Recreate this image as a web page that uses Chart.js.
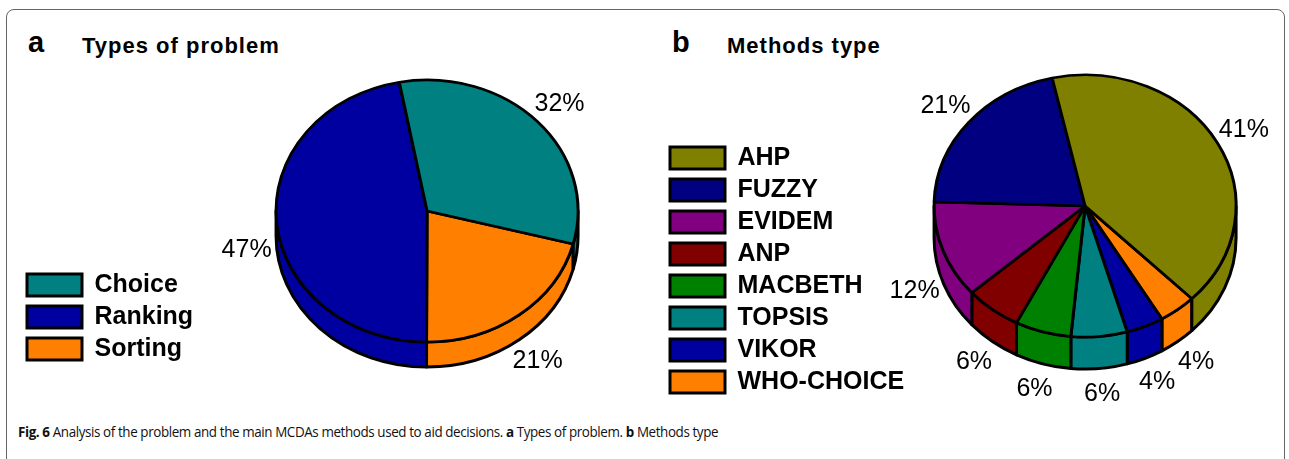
<!DOCTYPE html>
<html>
<head>
<meta charset="utf-8">
<script src="https://cdn.jsdelivr.net/npm/chart.js@4/dist/chart.umd.min.js"></script>
<style>
  html, body { margin: 0; padding: 0; background: #fff; }
  body { width: 1289px; height: 459px; position: relative; overflow: hidden; font-family: "Liberation Sans", Arial, sans-serif; }
  .frame { position: absolute; left: 6px; top: 9px; width: 1279px; height: 520px; border: 1.5px solid #666; border-radius: 8px; box-sizing: border-box; }
  canvas { position: absolute; top: 0; }
  #pieA { left: 0; }
  #pieB { left: 640px; }
  .tag { position: absolute; font-weight: bold; font-size: 29px; line-height: 29px; color: #000; }
  .ttl { position: absolute; font-weight: bold; font-size: 22px; line-height: 22px; letter-spacing: 1px; color: #000; }
  .cap { position: absolute; left: 18px; top: 424px; font-family: "Open Sans", sans-serif; font-size: 15px; line-height: 15px; letter-spacing: -0.45px; color: #111; white-space: nowrap; transform: scaleX(0.895); transform-origin: 0 0; }
  .cap b { font-weight: 700; }
</style>
</head>
<body>
<div class="frame"></div>
<div class="tag" style="left:28px;top:28px">a</div>
<div class="ttl" style="left:82px;top:35px">Types of problem</div>
<div class="tag" style="left:672px;top:28px">b</div>
<div class="ttl" style="left:727px;top:35px">Methods type</div>
<canvas id="pieA" width="660" height="400"></canvas>
<canvas id="pieB" width="649" height="420"></canvas>
<div class="cap"><b>Fig. 6</b> Analysis of the problem and the main MCDAs methods used to aid decisions. <b>a</b> Types of problem. <b>b</b> Methods type</div>
<script>
// panel a
const problemTypes = ['Choice', 'Ranking', 'Sorting'];
const problemShares = [32, 47, 21];
const problemColors = ['#008080', '#0000a0', '#ff8000'];

// panel b
const methodNames = ['AHP', 'FUZZY', 'EVIDEM', 'ANP', 'MACBETH', 'TOPSIS', 'VIKOR', 'WHO-CHOICE'];
const methodShares = [41, 21, 12, 6, 6, 6, 4, 4];
const methodColors = ['#808000', '#000080', '#800080', '#800000', '#008000', '#008080', '#0000a0', '#ff8000'];

// tilted pie: side wall under the front half, top face squashed, % labels outside
const pie3d = {
    id: 'pie3d',
    beforeDatasetsDraw(chart, args, opts) {
        const ctx = chart.ctx;
        const arcs = chart.getDatasetMeta(0).data;
        const { x: cx, y: cy, outerRadius: r } = arcs[0];
        const ry = r * opts.tilt;
        ctx.save();
        ctx.lineWidth = opts.lineWidth; ctx.strokeStyle = '#000'; ctx.lineJoin = 'round';
        arcs.forEach(arc => {
            for (let k = -1; k <= 2; k++) {
                const lo = Math.max(arc.startAngle, k * 2 * Math.PI);
                const hi = Math.min(arc.endAngle, k * 2 * Math.PI + Math.PI);
                if (hi <= lo) continue;
                ctx.beginPath();
                ctx.ellipse(cx, cy, r, ry, 0, lo, hi);
                ctx.ellipse(cx, cy + opts.depth, r, ry, 0, hi, lo, true);
                ctx.closePath();
                ctx.fillStyle = arc.options.backgroundColor;
                ctx.fill(); ctx.stroke();
            }
        });
        ctx.restore();
        ctx.save();
        ctx.translate(cx, cy); ctx.scale(1, opts.tilt); ctx.translate(-cx, -cy);
    },
    afterDatasetsDraw(chart, args, opts) {
        const ctx = chart.ctx;
        ctx.restore();
        const arcs = chart.getDatasetMeta(0).data;
        const vals = chart.data.datasets[0].data;
        const total = vals.reduce((s, v) => s + v, 0);
        const { x: cx, y: cy, outerRadius: r } = arcs[0];
        ctx.save();
        ctx.font = '25px "Liberation Sans", Arial, sans-serif';
        ctx.fillStyle = '#000'; ctx.textAlign = 'center'; ctx.textBaseline = 'middle';
        arcs.forEach((arc, i) => {
            const m = (arc.startAngle + arc.endAngle) / 2;
            const lx = cx + opts.labelRadius * r * Math.cos(m);
            let ly = cy + opts.labelRadius * r * opts.tilt * Math.sin(m);
            if (Math.sin(m) > 0) ly += opts.depth;
            ctx.fillText(Math.round(vals[i] / total * 100) + '%', lx, ly);
        });
        ctx.restore();
    }
};

// pie3 goes counter-clockwise, chart.js clockwise -> feed reversed, legend reversed back
function makePie(id, names, shares, colors, rotation, depth, padding) {
    return new Chart(document.getElementById(id), {
        type: 'pie',
        data: {
            labels: names.slice().reverse(),
            datasets: [{ data: shares.slice().reverse(), backgroundColor: colors.slice().reverse(), borderColor: '#000', borderWidth: 3 }]
        },
        options: {
            responsive: false, animation: false, events: [],
            rotation: rotation, radius: 151,
            layout: { padding: padding },
            plugins: {
                tooltip: { enabled: false },
                legend: {
                    position: 'left', align: 'end', reverse: true,
                    labels: { boxWidth: 55, boxHeight: 22, padding: 7, color: '#000', font: { family: '"Liberation Sans", Arial, sans-serif', size: 25, weight: 'bold' } }
                },
                pie3d: { tilt: 0.868, depth: depth, labelRadius: 1.2, lineWidth: 3 }
            }
        },
        plugins: [pie3d]
    });
}

makePie('pieA', problemTypes, problemShares, problemColors, 104.6, 25, { left: 20, right: 9, top: 53.5, bottom: 31.5 });
makePie('pieB', methodNames, methodShares, methodColors, 135, 32, { left: 23, right: 33, top: 10.5, bottom: 18.5 });
</script>
</body>
</html>
